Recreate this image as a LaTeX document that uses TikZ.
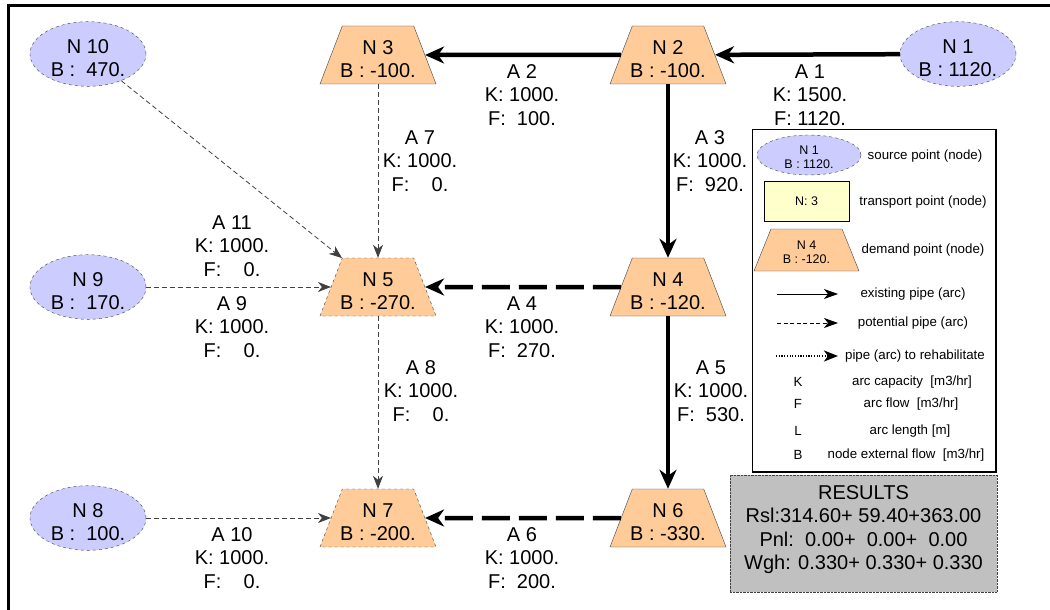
\documentclass[tikz,border=0pt]{standalone}
\usepackage{fontspec}
\setmainfont{Liberation Sans}
\usetikzlibrary{shapes.geometric,arrows.meta}

\definecolor{srcfill}{HTML}{CCCCFF}
\definecolor{dmdfill}{HTML}{FFCC99}
\definecolor{trnfill}{HTML}{FFFFCC}
\definecolor{resfill}{HTML}{C0C0C0}
\definecolor{edge}{HTML}{404040}

\newcommand{\ntxt}[2]{\makebox[0pt]{\rule{0pt}{22pt}#1}\\\makebox[0pt]{#2}}
\newcommand{\lntxt}[2]{\makebox[0pt]{\rule{0pt}{13pt}#1}\\\makebox[0pt]{#2}}

\tikzset{
  source/.style={ellipse, draw=edge, dashed, fill=srcfill, minimum width=116pt,
    minimum height=58pt, inner sep=0pt, align=center},
  demand/.style={trapezium, trapezium angle=64, trapezium stretches body, draw=edge,
    fill=dmdfill, minimum width=116pt, minimum height=58pt, inner sep=0pt, align=center},
  newdemand/.style={demand, dashed},
  arclabel/.style={align=center},
  pipe/.style={line width=4.5pt, -{Stealth[length=19pt,width=17pt,inset=6pt]}},
  newpipe/.style={pipe, dash pattern=on 28pt off 9pt},
  option/.style={draw=edge, line width=0.8pt, dash pattern=on 5pt off 3pt,
    -{Stealth[length=13pt,width=10pt,inset=4pt]}},
  legtext/.style={font=\fontsize{13.3}{15}\selectfont},
}

\begin{document}
\begin{tikzpicture}[x=1pt,y=-1pt,font=\fontsize{20}{23.5}\selectfont]
\useasboundingbox (0,0) rectangle (1050,610);
% frame
\draw[line width=3pt] (8.5,610) -- (8.5,6) -- (1050,6);

% nodes
\node[source] (n1) at (958,54) {\ntxt{N 1}{B : 1120.}};
\node[demand] (n2) at (668,55) {\ntxt{N 2}{B : -100.}};
\node[demand] (n3) at (378,55) {\ntxt{N 3}{B : -100.}};
\node[demand] (n4) at (668,287) {\ntxt{N 4}{B : -120.}};
\node[newdemand] (n5) at (378,287) {\ntxt{N 5}{B : -270.}};
\node[demand] (n6) at (668,518) {\ntxt{N 6}{B : -330.}};
\node[newdemand] (n7) at (378,518) {\ntxt{N 7}{B : -200.}};
\node[source] (n8) at (88,518) {\ntxt{N 8}{B :\ \ 100.}};
\node[source] (n9) at (88,287) {\ntxt{N 9}{B :\ \ 170.}};
\node[source] (n10) at (88,54) {\ntxt{N 10}{B :\ \ 470.}};

% arcs
\draw[pipe] (n1) -- (n2);
\draw[pipe] (n2) -- (n3);
\draw[pipe] (n2) -- (n4);
\draw[newpipe] (n4) -- (n5);
\draw[pipe] (n4) -- (n6);
\draw[newpipe] (n6) -- (n7);
\draw[option] (n3) -- (n5);
\draw[option] (n5) -- (n7);
\draw[option] (n9) -- (n5);
\draw[option] (n8) -- (n7);
\draw[option] (n10) -- (n5);

% arc labels
\node[arclabel] (a1lab) at (810,95) {A 1\\K: 1500.\\F: 1120.};
\node[arclabel] (a2lab) at (522,95) {A 2\\K: 1000.\\F:\ \ 100.};
\node[arclabel] (a3lab) at (710,161) {A 3\\K: 1000.\\F:\ \ 920.};
\node[arclabel] (a7lab) at (420,161) {A 7\\K: 1000.\\F:\ \ \ \ 0.};
\node[arclabel] (a11lab) at (232,246) {A 11\\K: 1000.\\F:\ \ \ \ 0.};
\node[arclabel] (a9lab) at (232,327) {A 9\\K: 1000.\\F:\ \ \ \ 0.};
\node[arclabel] (a4lab) at (522,327) {A 4\\K: 1000.\\F:\ \ 270.};
\node[arclabel] (a8lab) at (421,391) {A 8\\K: 1000.\\F:\ \ \ \ 0.};
\node[arclabel] (a5lab) at (711,391) {A 5\\K: 1000.\\F:\ \ 530.};
\node[arclabel] (a10lab) at (232,558) {A 10\\K: 1000.\\F:\ \ \ \ 0.};
\node[arclabel] (a6lab) at (522,558) {A 6\\K: 1000.\\F:\ \ 200.};

% legend
\node[draw=black, minimum width=244pt, minimum height=343pt, inner sep=0pt] (legend) at (874,300.5) {};
\draw[line width=2pt] (legend.north east) -- (legend.south east) -- (legend.south west);
\node[source, minimum width=104pt, minimum height=40pt, font=\fontsize{12.5}{14}\selectfont] (legsrc) at (809,155) {\lntxt{N 1}{B : 1120.}};
\node[draw=black, fill=trnfill, minimum width=85pt, minimum height=40pt, inner sep=0pt,
  font=\fontsize{12.5}{14}\selectfont] (legtrn) at (806.5,201) {\makebox[0pt]{N: 3}};
\node[demand, trapezium angle=58, minimum width=105pt, minimum height=42pt,
  font=\fontsize{12.5}{14}\selectfont] (legdmd) at (806.5,250) {\lntxt{N 4}{B : -120.}};
\node[legtext] (legsrctxt) at (925,156) {source point (node)};
\node[legtext] (legtrntxt) at (923,202) {transport point (node)};
\node[legtext] (legdmdtxt) at (923,250) {demand point (node)};
\coordinate (le1a) at (777,294);
\coordinate (le1b) at (838,294);
\coordinate (le2a) at (777,323);
\coordinate (le2b) at (838,323);
\coordinate (le3a) at (776,356);
\coordinate (le3b) at (838,356);
\draw[line width=0.8pt, -{Stealth[length=14pt,width=10pt,inset=4pt]}] (le1a) -- (le1b);
\draw[line width=0.8pt, dash pattern=on 4pt off 2.5pt, -{Stealth[length=14pt,width=10pt,inset=4pt]}] (le2a) -- (le2b);
\draw[line width=2.5pt, dash pattern=on 1.2pt off 1.5pt, -{Stealth[length=14pt,width=11pt,inset=4pt]}] (le3a) -- (le3b);
\node[legtext] (le1txt) at (913,294) {existing pipe (arc)};
\node[legtext] (le2txt) at (913,323) {potential pipe (arc)};
\node[legtext] (le3txt) at (915,356) {pipe (arc) to rehabilitate};
\node[legtext] (legk) at (798,382) {K};
\node[legtext] (legktxt) at (912,382) {arc capacity\ \ [m3/hr]};
\node[legtext] (legf) at (798,404) {F};
\node[legtext] (legftxt) at (911,404) {arc flow\ \ [m3/hr]};
\node[legtext] (legl) at (798,431) {L};
\node[legtext] (legltxt) at (910,431) {arc length [m]};
\node[legtext] (legb) at (798,455) {B};
\node[legtext] (legbtxt) at (906,455) {node external flow\ \ [m3/hr]};

% results
\node[draw=edge, densely dotted, fill=resfill, minimum width=267pt, minimum height=117pt,
  inner sep=0pt, align=center] (results) at (863.5,533.5)
  {RESULTS\\Rsl:314.60+ 59.40+363.00\\Pnl:\ \ 0.00+\ \ 0.00+\ \ 0.00\\Wgh: 0.330+ 0.330+ 0.330\rule[-12pt]{0pt}{0pt}};
\end{tikzpicture}
\end{document}
